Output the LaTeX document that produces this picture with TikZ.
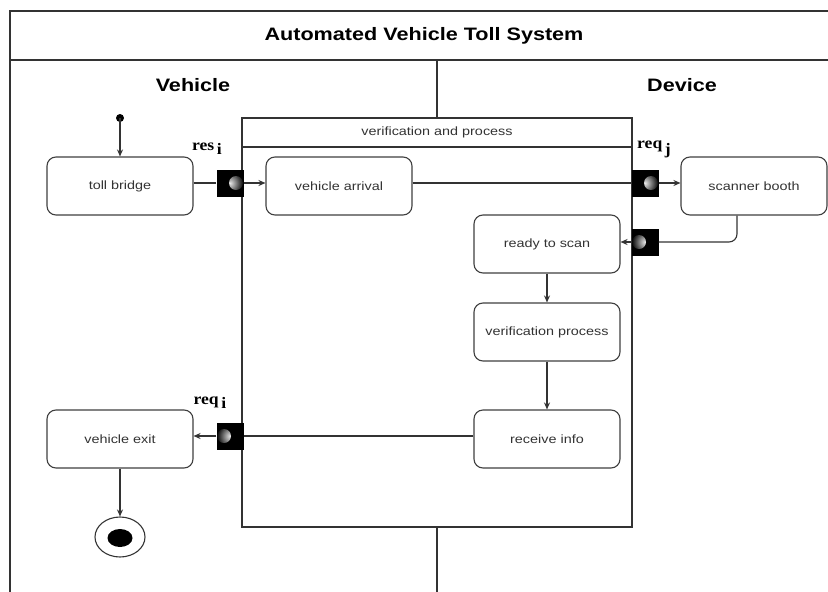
\documentclass[tikz,border=0pt]{standalone}
\usepackage{fontspec}
\setmainfont{Liberation Sans}[FakeStretch=1.2]
\newfontfamily\serifl{Liberation Serif}[FakeStretch=1.1]
\usetikzlibrary{arrows.meta,shapes.geometric}
\begin{document}
\begin{tikzpicture}[x=1pt,y=-1pt,
  ln/.style={draw=black!80,line width=1.1pt},
  act/.style={draw=black!75,line width=1.1pt,rounded corners=9pt,minimum width=146pt,minimum height=58pt,inner sep=0pt,font=\fontsize{12}{14}\selectfont,text=black!80},
  pinR/.style={fill=black,minimum size=27pt,inner sep=0pt,
    path picture={\shade[inner color=white!80!gray,outer color=black] ([xshift=6pt]path picture bounding box.center) circle (7pt);}},
  pinL/.style={fill=black,minimum size=27pt,inner sep=0pt,
    path picture={\shade[inner color=white!80!gray,outer color=black] ([xshift=-6pt]path picture bounding box.center) circle (7pt);}},
  arr/.style={ln,-{Stealth[length=7pt,width=6pt]}},
  lbl/.style={font=\serifl\bfseries\fontsize{16}{18}\selectfont}
]
\useasboundingbox (0,0) rectangle (828,592);
\fill[white] (0,0) rectangle (828,592);
\begin{scope}
\clip (0,0) rectangle (828,592);
\draw[ln] (10,11) rectangle (840,600);
\draw[ln] (10,60) -- (840,60);
\draw[ln] (437,60) -- (437,600);
\end{scope}
\node[font=\bfseries\fontsize{18}{20}\selectfont] (title) at (424,36) {Automated Vehicle Toll System};
\node[font=\bfseries\fontsize{18}{20}\selectfont] (lv) at (193,85) {Vehicle};
\node[font=\bfseries\fontsize{18}{20}\selectfont] (ld) at (682,85) {Device};
% partition
\draw[ln,fill=white] (242,118) rectangle (632,527);
\draw[ln] (242,147) -- (632,147);
\node[font=\fontsize{12}{14}\selectfont,text=black!80] (ptitle) at (437,132) {verification and process};
% nodes
\fill (120,118) circle (4pt);
\coordinate (init) at (120,118);
\node[act] (toll) at (120,186) {toll bridge};
\node[act] (arrival) at (339,186) {vehicle arrival};
\node[act] (scanner) at (754,186) {scanner booth};
\node[act] (ready) at (547,244) {ready to scan};
\node[act] (verif) at (547,332) {verification process};
\node[act] (recv) at (547,439) {receive info};
\node[act] (exit) at (120,439) {vehicle exit};
\node[pinR] (p1) at (230,183) {};
\node[pinR] (p2) at (645,183) {};
\node[pinL] (p3) at (645,242) {};
\node[pinL] (p4) at (230,436) {};
\node[lbl] (l1) at (207,149) {res\raisebox{-4pt}{\,i}};
\node[lbl] (l2) at (654,149) {req\raisebox{-6pt}{\,j}};
\node[lbl] (l3) at (210,403) {req\raisebox{-4pt}{\,i}};
\node[draw=black!80,line width=1.1pt,ellipse,minimum width=50pt,minimum height=40pt,inner sep=0pt] (final) at (120,537) {};
\fill (120,538) ellipse (12.5pt and 9pt);
% connectors
\draw[arr] (init) -- (toll.north);
\draw[ln] (toll.east |- p1) -- (p1.west);
\draw[arr] (p1.east) -- (arrival.west |- p1);
\draw[ln] (arrival.east |- p2) -- (p2.west);
\draw[arr] (p2.east) -- (scanner.west |- p2);
\draw[ln,rounded corners=8pt] ([xshift=-17pt]scanner.south) -- ([xshift=-17pt]scanner.south |- p3) -- (p3.east);
\draw[arr] (p3.west) -- (ready.east |- p3);
\draw[arr] (ready.south) -- (verif.north);
\draw[arr] (verif.south) -- (recv.north);
\draw[ln] (recv.west |- p4) -- (p4.east);
\draw[arr] (p4.west) -- (exit.east |- p4);
\draw[arr] (exit.south) -- (final.north);
\end{tikzpicture}
\end{document}
